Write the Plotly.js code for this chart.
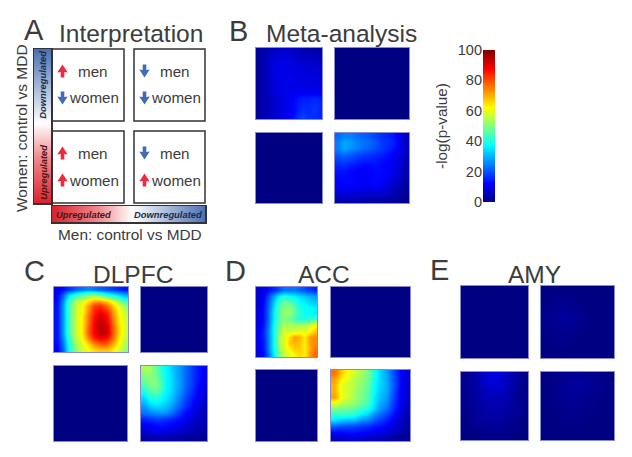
<!DOCTYPE html>
<html>
<head>
<meta charset="utf-8">
<script src="https://cdn.plot.ly/plotly-3.0.1.min.js"></script>
<style>html,body{margin:0;padding:0;background:#fff}#plot{width:632px;height:457px}</style>
</head>
<body>
<div id="plot"></div>
<script>
// ---------- values ----------
var empty = [[0,0],[0,0]];
var metaUL = [
[3,5,6,7,7,8,7,6,5,4,4,4],[3,5,7,9,9,9,8,7,6,6,6,6],[3,5,8,10,10,10,9,9,8,7,7,7],[3,5,8,10,10,10,10,9,9,8,8,8],
[3,5,8,10,10,10,10,10,9,9,9,9],[3,5,7,9,10,10,10,10,10,9,9,9],[3,5,7,9,10,10,10,10,10,10,10,10],[3,5,7,9,10,10,11,11,11,11,11,11],
[3,5,6,8,9,10,12,14,15,15,16,15],[3,5,6,8,9,10,12,15,16,16,17,16],[3,5,6,8,9,11,12,15,17,16,18,16],[3,5,6,8,10,11,13,17,19,17,17,16]];
var metaLR = [
[23,25,25,23,22,21,19,17,16,14,10,6],[25,29,28,25,24,23,21,18,17,15,11,6],[25,29,27,25,23,22,20,18,16,14,10,6],[22,24,22,20,19,18,17,16,14,12,9,6],
[19,20,19,17,16,16,15,14,13,11,8,5],[16,17,15,14,13,13,14,13,12,10,8,5],[14,14,13,12,12,12,13,13,12,10,7,4],[13,13,13,12,12,12,13,13,11,9,6,4],
[12,13,13,12,12,12,13,12,10,8,5,3],[11,12,11,11,10,10,11,10,8,6,4,3],[8,8,8,8,7,7,7,7,6,4,3,2],[4,5,5,5,4,4,4,4,3,3,2,1]];
var dlpfcUL = [
[10,13,18,22,24,26,24,22,20,18,16,14],[12,22,36,42,46,50,52,48,42,38,34,30],[13,26,44,54,58,64,70,70,66,58,50,42],[14,28,46,58,62,72,82,84,78,68,60,52],
[14,28,46,58,62,74,84,88,84,72,62,56],[14,28,46,58,64,76,86,92,88,74,64,58],[14,28,46,58,64,76,88,94,90,76,64,58],[14,28,46,58,64,78,88,94,92,78,66,58],
[14,28,46,58,64,78,88,94,92,78,66,58],[14,26,44,56,62,74,84,88,86,76,64,56],[13,24,42,54,60,66,74,78,78,70,62,54],[12,22,40,52,58,62,66,68,68,64,58,52]];
var dlpfcLR = [
[54,54,48,42,37,33,29,25,21,17,14,11],[50,51,49,43,37,34,29,25,21,17,14,11],[47,50,51,45,37,34,30,25,21,17,13,10],[43,47,49,45,37,34,29,25,20,16,12,9],
[37,43,45,41,36,33,28,23,19,15,11,8],[32,37,39,37,34,31,26,21,17,13,10,7],[27,31,33,33,31,28,23,19,15,11,8,6],[23,25,26,27,26,23,19,15,12,9,7,5],
[16,17,18,18,17,16,14,12,10,8,6,5],[11,12,13,14,13,12,11,9,8,6,5,4],[7,8,9,9,9,8,7,6,5,4,3,3],[3,4,5,5,4,4,3,3,2,2,2,1]];
var accUL = [
[8,10,14,16,20,24,24,24,22,20,18,16],[8,12,20,28,36,40,38,36,34,32,30,28],[8,13,22,32,42,48,46,42,38,36,34,32],[9,14,23,34,46,50,52,46,40,38,38,36],
[9,14,24,36,46,52,52,46,42,38,38,36],[9,14,24,36,46,50,48,44,40,40,42,44],[10,15,25,38,48,54,54,54,54,54,58,62],[11,16,26,38,50,58,58,58,60,60,62,68],
[11,16,26,38,52,60,66,72,70,64,72,74],[11,15,26,38,52,60,68,70,68,64,72,74],[10,15,26,38,50,60,64,68,68,64,70,76],[9,14,24,36,48,56,60,64,66,64,72,78]];
var accLR = [
[76,68,62,58,54,50,40,33,28,20,13,9],[72,64,60,55,52,48,40,33,29,21,13,9],[70,60,58,55,51,48,38,33,29,21,13,8],[70,60,58,54,50,46,38,32,29,20,12,8],
[72,62,58,54,50,46,36,31,27,19,12,7],[60,56,54,52,48,44,35,29,25,18,11,7],[50,48,48,46,44,40,33,27,23,16,10,6],[43,43,43,41,37,33,27,23,19,14,9,5],
[35,33,31,31,27,25,21,18,15,11,7,4],[22,20,20,19,18,17,15,14,12,9,6,4],[13,13,14,14,13,12,11,10,8,6,4,3],[6,7,8,9,8,7,6,6,5,3,2,2]];
var amyUR = [
[0,0,0,0,0,0,0,0],[0,1,1,1,0,0,0,0],[1,1,2,1,1,0,0,0],[1,2,3,2,1,0,0,0],[1,1,2,1,1,0,0,0],[0,1,1,1,0,0,0,0],[0,0,1,0,0,0,0,0],[0,0,0,0,0,0,0,0]];
var amyLL = [
[1,3,7,9,9,6,3,1],[1,3,6,8,8,6,3,1],[1,3,5,6,6,5,2,1],[1,2,4,5,5,4,2,1],[1,2,3,4,4,3,2,1],[0,2,3,3,3,2,1,0],[0,1,1,2,2,1,1,0],[0,0,1,1,1,1,0,0]];
var amyLR = [
[0,1,1,2,2,1,1,0],[0,1,2,3,3,2,1,0],[0,1,2,2,2,1,1,0],[0,1,1,2,1,1,0,0],[0,0,1,1,1,1,0,0],[0,0,1,1,1,0,0,0],[0,0,0,0,0,0,0,0],[0,0,0,0,0,0,0,0]];
var colorbarValues = [0,10,20,30,40,50,60,70,80,90,100];
var colorbarTicks = [0,20,40,60,80,100];
var regulationRamp = [-1,-0.5,0,0.5,1];
var interpretationWomen = ['men','women'];
var panelTitles = ['Interpretation','Meta-analysis','DLPFC','ACC','AMY'];
var panelLetters = ['A','B','C','D','E'];

// ---------- layout and style ----------
var W = 632, H = 457, TXT = '#3c3c3c', FONT = '"Liberation Sans", Arial, sans-serif';
var jet = [[0,'#000082'],[0.125,'#0000ff'],[0.375,'#00ffff'],[0.625,'#ffff00'],[0.875,'#ff0000'],[1,'#800000']];
var regScale = [[0,'#d8232c'],[0.3,'#f08a8e'],[0.52,'#ffffff'],[0.75,'#a9bbdc'],[1,'#4a70b4']];
var px = function(x){return x/W;}, py = function(y){return 1-y/H;};

// [z, left, right, top, bottom] in figure pixels
var heatmapRects = [
 [metaUL,256,322,48,119],[empty,335,409,48,119],[empty,256,322,133,203],[metaLR,335,409,133,203],
 [dlpfcUL,54,128,287,352],[empty,141,207,287,352],[empty,54,127,366,441],[dlpfcLR,141,207,366,441],
 [accUL,256,317,287,357],[empty,331,410,287,357],[empty,256,317,370,441],[accLR,331,410,370,441],
 [empty,461,528,286,358],[amyUR,541,614,286,358],[amyLL,461,528,372,440],[amyLR,541,614,372,440]
];

var traces = [], layout = {
  width:W, height:H, margin:{l:0,r:0,t:0,b:0}, paper_bgcolor:'#fff', plot_bgcolor:'#fff',
  showlegend:false, font:{family:FONT,color:TXT}, shapes:[], annotations:[]
};
var axN = 0;
function addAxes(l,r,t,b,xo,yo){
  axN++;
  var s = axN===1?'':String(axN);
  var base = {showgrid:false,zeroline:false,showticklabels:false,ticks:'',fixedrange:true};
  layout['xaxis'+s] = Object.assign({},base,{domain:[px(l),px(r)],anchor:'y'+s},xo||{});
  layout['yaxis'+s] = Object.assign({},base,{domain:[py(b),py(t)],anchor:'x'+s},yo||{});
  return {xaxis:'x'+s,yaxis:'y'+s};
}
var edge = {showline:true,mirror:true,linecolor:'#8a8ad0',linewidth:1};
heatmapRects.forEach(function(r){
  var a = addAxes(r[1],r[2],r[3],r[4],edge,Object.assign({autorange:'reversed'},edge));
  traces.push(Object.assign({type:'heatmap',z:r[0],zmin:0,zmax:100,colorscale:jet,zsmooth:'best',showscale:false,hoverinfo:'skip'},a));
});

// colour key
var cbAx = addAxes(483,495,50,202,{range:[0,1]},{range:[0,100],showticklabels:true,tickvals:colorbarTicks,
  side:'left',tickfont:{size:14.5,color:TXT,family:FONT},ticklen:0,
  title:{text:'-log(p-value)',font:{size:15.3,color:TXT,family:FONT},standoff:6}});
traces.push(Object.assign({type:'heatmap',x:[0,1],y:colorbarValues,z:colorbarValues.map(function(v){return [v,v];}),
  zmin:0,zmax:100,colorscale:jet,zsmooth:'best',showscale:false,hoverinfo:'skip'},cbAx));

// regulation bars
var frame = {showline:true,mirror:true,linecolor:'#333',linewidth:1.5};
var hBar = addAxes(52,205,206,222,Object.assign({range:[-1,1]},frame),Object.assign({range:[0,1]},frame));
traces.push(Object.assign({type:'heatmap',x:regulationRamp,y:[0,1],z:[regulationRamp,regulationRamp],zmin:-1,zmax:1,colorscale:regScale,zsmooth:'best',showscale:false,hoverinfo:'skip'},hBar));
var vBar = addAxes(34,51,49,203,Object.assign({range:[0,1]},frame),Object.assign({range:[1,-1]},frame));
traces.push(Object.assign({type:'heatmap',x:[0,1],y:regulationRamp,z:regulationRamp.map(function(v){return [-v,-v];}),zmin:-1,zmax:1,colorscale:regScale,zsmooth:'best',showscale:false,hoverinfo:'skip'},vBar));

// text helper
function label(t,x,y,size,o){
  layout.annotations.push(Object.assign({text:t,xref:'paper',yref:'paper',x:px(x),y:py(y),xanchor:'center',yanchor:'middle',
    showarrow:false,font:{size:size,color:TXT,family:FONT}},o||{}));
}
// interpretation boxes
var boxes = [[52,124,49,121,1,-1],[134,205,49,121,-1,-1],[52,124,131,203,1,1],[134,205,131,203,-1,1]];
var RED='#ee2a3c', BLUE='#3f6cb4';
function arrow(cx,cy,dir,col){
  var hw=5.2, sw=1.8, h=6.5, neck=1.5;
  var p=function(a,b){return px(cx+a)+','+py(cy+dir*b);};
  var path='M'+p(0,-h)+' L'+p(hw,neck)+' L'+p(sw,neck-0.5)+' L'+p(sw,h)+' L'+p(-sw,h)+' L'+p(-sw,neck-0.5)+' L'+p(-hw,neck)+' Z';
  layout.shapes.push({type:'path',xref:'paper',yref:'paper',path:path,fillcolor:col,line:{width:0}});
}
boxes.forEach(function(b){
  layout.shapes.push({type:'rect',xref:'paper',yref:'paper',x0:px(b[0]),x1:px(b[1]),y0:py(b[2]),y1:py(b[3]),line:{color:'#333',width:1.5},fillcolor:'rgba(0,0,0,0)'});
  var ax = b[0]+10.5, top = b[2]+22, low = b[2]+49;
  arrow(ax,top,b[4]>0?1:-1,b[4]>0?RED:BLUE);
  arrow(ax,low,b[5]>0?1:-1,b[5]>0?RED:BLUE);
  label(interpretationWomen[0],b[0]+41,top,15.2);
  label(interpretationWomen[1],b[0]+42,low,15.2);
});
// axis captions
label('Women: control vs MDD',21,128,15.5,{textangle:-90});
label('Men: control vs MDD',130,234,15.4);
var bi=function(c){return {size:9.4,color:c,family:FONT,weight:'bold',style:'italic'};};
label('Upregulated',83,214,9.4,{font:bi('#4a1418')});
label('Downregulated',168,214,9.4,{font:bi('#1e2a44')});
label('Downregulated',42.7,85,9.4,{textangle:-90,font:bi('#1e2a44')});
label('Upregulated',42.7,172,9.4,{textangle:-90,font:bi('#4a1418')});
// titles
var titlePos=[[131,33],[341,34],[133,274],[324,274],[534,274]];
panelTitles.forEach(function(t,i){label(t,titlePos[i][0],titlePos[i][1],24.5);});
var letterPos=[[34,30],[238,31],[34,271],[235,271],[439,270]];
panelLetters.forEach(function(t,i){label(t,letterPos[i][0],letterPos[i][1],29);});

Plotly.newPlot('plot',traces,layout,{displayModeBar:false,staticPlot:true});
</script>
</body>
</html>
